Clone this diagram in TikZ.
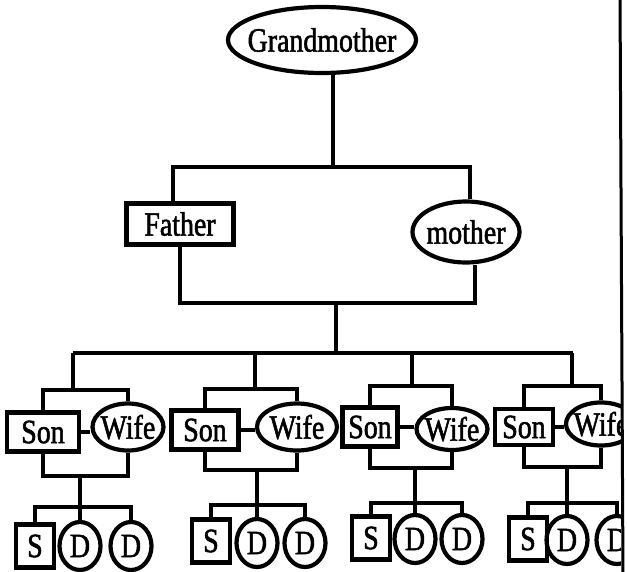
\documentclass[tikz,border=0pt]{standalone}
\usepackage{fontspec}
\setmainfont{Liberation Serif}[FakeStretch=0.82,FakeBold=1.6]
\usetikzlibrary{shapes.geometric}
\begin{document}
\begin{tikzpicture}[x=1pt,y=-1pt,line width=3.2pt,
  lbl/.style={inner sep=0pt,line width=4.2pt,font=\fontsize{34}{40}\selectfont},
  box/.style={lbl,draw,rectangle},
  oval/.style={lbl,draw,ellipse}]
\useasboundingbox (0,0) rectangle (627,571);
\fill[white] (0,0) rectangle (627,571);
\begin{scope}
\clip (0,0) rectangle (621,571);
% top generations
\node[oval,minimum width=188pt,minimum height=66pt] (gm) at (322,40) {\makebox[0pt]{Grandmother}};
\node[box,minimum width=107pt,minimum height=41pt] (fa) at (180,224) {Father};
\node[oval,minimum width=107pt,minimum height=61pt] (mo) at (466,232) {\makebox[0pt]{mother}};
\coordinate (gj) at (333,167);
\coordinate (tl) at (173,167);
\coordinate (tr) at (470,167);
\coordinate (bl) at (180,303);
\coordinate (br) at (475,303);
\coordinate (bm) at (336,303);
\coordinate (sL) at (73,353);
\coordinate (sR) at (573,353);
\draw (gj |- gm.south) -- (gj);
\draw (tl |- fa.north) -- (tl) -- (tr) -- (tr |- mo.north);
\draw (bl |- fa.south) -- (bl) -- (br) -- (br |- mo.south);
\draw (bm) -- (bm |- sL);
\draw (sL) -- (sR);
% families
\foreach \i/\sx/\sy/\sw/\sh/\wx/\wy/\ww/\wh/\ty/\by/\dx/\ky/\Sx/\Sy/\Dx/\Ex/\Dy in {
  1/43/432/72/39/128/427/71/47/390/476/73/507/35/546/80/131/546,
  2/205/430/67/39/297/427/80/47/389/470/255/505/211/541/257/305/543,
  3/370/427/55/39/452/429/71/42/386/468/412/503/371/538/415/462/539,
  4/524/427/58/36/601/424/70/43/386/467/572/503/528/539/567/617/540}{
  \node[box,minimum width=\sw pt,minimum height=\sh pt] (son\i) at (\sx,\sy) {Son};
  \node[oval,minimum width=\ww pt,minimum height=\wh pt] (wife\i) at (\wx,\wy) {\makebox[0pt]{Wife}};
  \node[box,minimum width=38pt,minimum height=43pt] (s\i) at (\Sx,\Sy) {S};
  \node[oval,minimum width=41pt,minimum height=48pt] (d\i) at (\Dx,\Dy) {\makebox[0pt]{D}};
  \node[oval,minimum width=41pt,minimum height=48pt] (e\i) at (\Ex,\Dy) {\makebox[0pt]{D}};
  \coordinate (top\i) at (\dx,\ty);
  \coordinate (bot\i) at (\Dx,\by);
  \coordinate (kid\i) at (\Dx,\ky);
  \draw (top\i |- sL) -- (top\i);
  \draw (son\i.north) -- (son\i.north |- top\i) -- (wife\i.north |- top\i) -- (wife\i.north);
  \draw (son\i.east) -- (son\i.east -| wife\i.west);
  \draw (son\i.south) -- (son\i.south |- bot\i) -- (wife\i.south |- bot\i) -- (wife\i.south);
  \draw (bot\i) -- (d\i.north);
  \draw (s\i.north) -- (s\i.north |- kid\i) -- (e\i.north |- kid\i) -- (e\i.north);
}
\end{scope}
\draw[line width=3pt] (620,-5) -- (623,576);
\end{tikzpicture}
\end{document}
